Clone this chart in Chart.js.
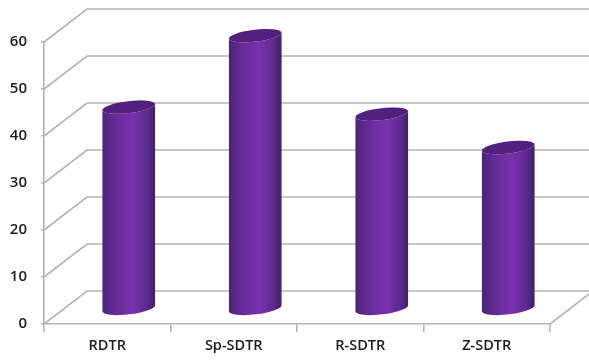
<!DOCTYPE html>
<html>
<head>
<meta charset="utf-8">
<style>
  html, body { margin: 0; padding: 0; background: #fff; }
  #wrap { position: relative; width: 589px; height: 361px; overflow: hidden; }
</style>
<script src="https://cdn.jsdelivr.net/npm/chart.js@4/dist/chart.umd.js"></script>
</head>
<body>
<div id="wrap"><canvas id="chart"></canvas></div>
<script>
const categories = ['RDTR', 'Sp-SDTR', 'R-SDTR', 'Z-SDTR'];
const values = [43, 58.2, 41.5, 34.4];
const yTicks = [0, 10, 20, 30, 40, 50, 60];

// Depth of the 3D box; bars stand roughly halfway back
const DEPTH_X = 43;
const DEPTH_Y = -33;
const BAR_SHIFT_X = 21.5;
const BAR_SHIFT_Y = -14.8;
const GRID = '#b4b4b0';

// Bar drawn as a tilted cylinder instead of a flat rectangle
class CylinderElement extends Chart.BarElement {
  static id = 'cylinder';

  draw(ctx) {
    const { x, y, base, width } = this.getProps(['x', 'y', 'base', 'width']);
    const cx = x + BAR_SHIFT_X;
    const top = y + BAR_SHIFT_Y;
    const bottom = base + BAR_SHIFT_Y;
    const rx = width / 2;
    const ry = 6;
    const tilt = -0.12;

    const side = ctx.createLinearGradient(cx - rx, 0, cx + rx, 0);
    side.addColorStop(0, '#4a2378');
    side.addColorStop(0.22, '#642a96');
    side.addColorStop(0.58, '#7a32ae');
    side.addColorStop(0.85, '#5c2a8c');
    side.addColorStop(1, '#3f1f66');

    ctx.save();
    ctx.beginPath();
    ctx.ellipse(cx, top, rx, ry, tilt, Math.PI, 0, true);
    ctx.ellipse(cx, bottom, rx, ry, tilt, 0, Math.PI, false);
    ctx.closePath();
    ctx.fillStyle = side;
    ctx.fill();

    ctx.beginPath();
    ctx.ellipse(cx, top, rx, ry, tilt, 0, Math.PI * 2);
    ctx.fillStyle = '#52207f';
    ctx.fill();
    ctx.restore();
  }
}

class CylinderController extends Chart.BarController {
  static id = 'cylinder';
  static defaults = { dataElementType: 'cylinder' };
}

Chart.register(CylinderElement, CylinderController);

// Side wall, back wall and floor of the 3D box, hung off the real scales
const boxWalls = {
  id: 'boxWalls',
  beforeDatasetsDraw(chart) {
    const { ctx, scales: { x, y } } = chart;
    ctx.save();
    ctx.strokeStyle = GRID;
    ctx.lineWidth = 1.6;
    yTicks.forEach((v) => {
      const py = y.getPixelForValue(v);
      ctx.beginPath();
      ctx.moveTo(x.left, py);
      ctx.lineTo(x.left + DEPTH_X, py + DEPTH_Y);
      ctx.lineTo(x.right + DEPTH_X, py + DEPTH_Y);
      ctx.stroke();
    });
    // right edge of the floor
    const py0 = y.getPixelForValue(0);
    ctx.beginPath();
    ctx.moveTo(x.right, py0);
    ctx.lineTo(x.right + DEPTH_X, py0 + DEPTH_Y);
    ctx.stroke();
    ctx.restore();
  }
};

new Chart(document.getElementById('chart'), {
  type: 'cylinder',
  data: {
    labels: categories,
    datasets: [{
      data: values,
      backgroundColor: '#7a32ae',
      barThickness: 53,
      clip: false
    }]
  },
  plugins: [boxWalls],
  options: {
    responsive: true,
    maintainAspectRatio: false,
    animation: false,
    layout: { padding: { top: 42, right: 39, left: 0, bottom: 0 } },
    plugins: { legend: { display: false }, tooltip: { enabled: false } },
    scales: {
      x: {
        afterFit: (s) => { s.height = 37; },
        grid: { drawOnChartArea: false, color: GRID, tickLength: 8, lineWidth: 1.6 },
        border: { color: GRID, width: 1.6 },
        ticks: { color: '#1c1c1c', padding: 5, font: { family: 'Open Sans', size: 14.5, weight: '600' } }
      },
      y: {
        min: 0,
        max: 60,
        afterFit: (s) => { s.width = 44; },
        afterBuildTicks: (s) => { s.ticks = yTicks.map((value) => ({ value })); },
        grid: { drawOnChartArea: false, color: GRID, tickLength: 3, lineWidth: 1.6 },
        border: { color: GRID, width: 1.6 },
        ticks: { color: '#1c1c1c', padding: 14, font: { family: 'Open Sans', size: 15, weight: '600' } }
      }
    }
  }
});
</script>
</body>
</html>
